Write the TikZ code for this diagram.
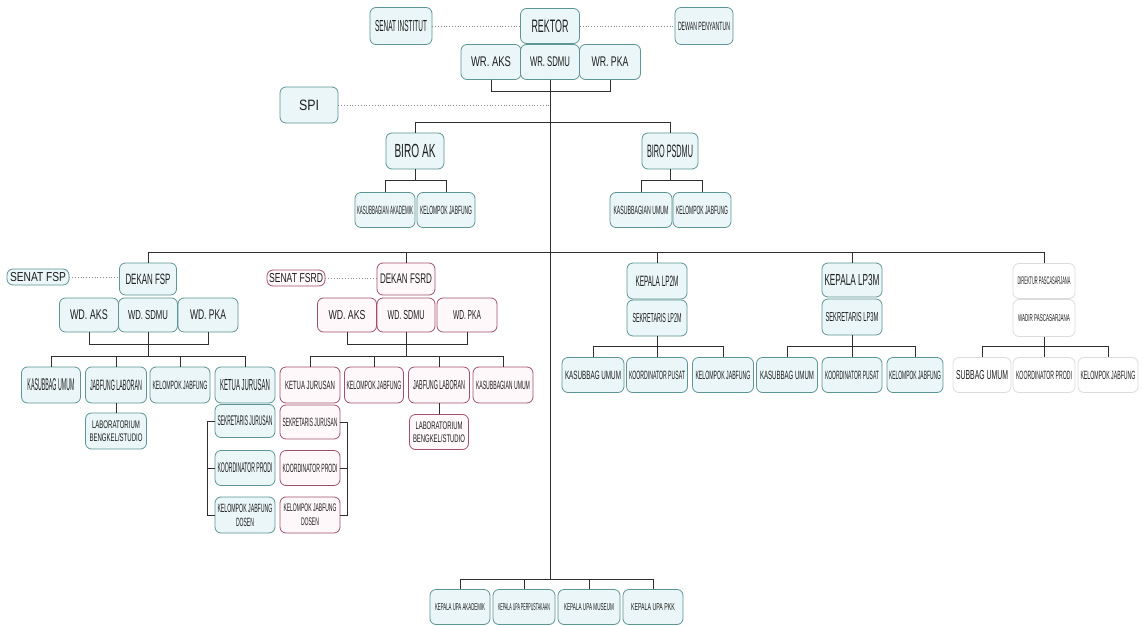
\documentclass[tikz,border=0pt]{standalone}
\usepackage{fontspec}
\setmainfont{Liberation Sans}
\usepackage{graphicx}
\definecolor{tealb}{HTML}{5F9494}
\definecolor{tealf}{HTML}{EAF6F7}
\definecolor{redb}{HTML}{A0506E}
\definecolor{redf}{HTML}{FFF8FA}
\definecolor{grayb}{HTML}{DCDCDC}
\definecolor{linec}{HTML}{2F2F2F}
\definecolor{dotc}{HTML}{8A8A8A}
\definecolor{txt}{HTML}{1E1E1E}
\newcommand\fw[3]{{\fontsize{#2}{#2}\selectfont\resizebox{#1pt}{\height}{#3}}}
\tikzset{
  bx/.style={draw=tealb, fill=tealf, rounded corners=6pt, line width=0.8pt, inner sep=0pt,
    align=center, text=txt, minimum width=60pt, minimum height=35pt, font=\fontsize{11}{12}\selectfont},
  rb/.style={bx, draw=redb, fill=redf},
  gb/.style={bx, draw=grayb, fill=white},
  sz/.style 2 args={minimum width=#1pt, minimum height=#2pt},
  ln/.style={draw=linec, line width=0.8pt},
  dl/.style={draw=dotc, line width=0.8pt, dotted},
}
\begin{document}
\begin{tikzpicture}[x=1pt,y=-1pt]
\useasboundingbox[fill=white] (0,0) rectangle (1143,626);
% level coordinates
\coordinate (y91) at (0,91);
\coordinate (y122) at (0,122);
\coordinate (y180) at (0,180);
\coordinate (hb) at (0,252);
\coordinate (ya1) at (0,344);
\coordinate (ya2) at (0,356);
\coordinate (yl) at (0,346);
\coordinate (yb) at (0,579);
\coordinate (t2) at (550,579);
\coordinate (bx1) at (207,0);
\coordinate (bx2) at (347,0);

% top
\node[bx, sz={62}{37}] (senat) at (401,26) {\fw{52}{16}{SENAT INSTITUT}};
\node[bx, sz={59}{35}] (rektor) at (550,26) {\fw{37}{18}{REKTOR}};
\node[bx, sz={58}{37}] (dewan) at (704,26) {\fw{52}{12}{DEWAN PENYANTUN}};
\node[bx, sz={60}{35}] (wraks) at (491,62) {\fw{40}{14}{WR. AKS}};
\node[bx, sz={59}{35}] (wrsdmu) at (550,62) {\fw{40}{14}{WR. SDMU}};
\node[bx, sz={61}{35}] (wrpka) at (610,62) {\fw{37}{14}{WR. PKA}};
\node[bx, sz={58}{36}] (spi) at (309,105) {\fw{20}{15}{SPI}};

% biro
\node[bx, sz={58}{36}] (biroak) at (415,151) {\fw{41}{19}{BIRO AK}};
\node[bx, sz={56}{36}] (biropsdmu) at (670,151) {\fw{46}{18}{BIRO PSDMU}};
\node[bx, sz={60}{35}] (kak) at (385,210) {\fw{56}{12}{KASUBBAGIAN AKADEMIK}};
\node[bx, sz={58}{35}] (kjf1) at (446,210) {\fw{52}{12}{KELOMPOK JABFUNG}};
\node[bx, sz={62}{35}] (kum1) at (641,210) {\fw{55}{12}{KASUBBAGIAN UMUM}};
\node[bx, sz={58}{35}] (kjf2) at (702,210) {\fw{52}{12}{KELOMPOK JABFUNG}};

% FSP
\node[bx, sz={62}{16}] (senatfsp) at (38,277) {\fw{56}{13}{SENAT FSP}};
\node[bx, sz={57}{32}] (dfsp) at (148,279) {\fw{45}{15}{DEKAN FSP}};
\node[bx, sz={59}{34}] (wdaks1) at (89,315) {\fw{38}{14}{WD. AKS}};
\node[bx, sz={59}{34}] (wdsdmu1) at (148,315) {\fw{40}{13}{WD. SDMU}};
\node[bx, sz={60}{34}] (wdpka1) at (208,315) {\fw{36}{14}{WD. PKA}};
\node[bx, sz={59}{36}] (kub1) at (51,385) {\fw{47}{17}{KASUBBAG UMUM}};
\node[bx, sz={61}{36}] (jl1) at (116,385) {\fw{52}{15}{JABFUNG LABORAN}};
\node[bx, sz={60}{36}] (kjf3) at (180,385) {\fw{55}{12}{KELOMPOK JABFUNG}};
\node[bx, sz={60}{36}] (kj1) at (245,385) {\fw{50}{16}{KETUA JURUSAN}};
\node[bx, sz={61}{36}] (lab1) at (116,431) {\fw{48}{11}{LABORATORIUM}\\[1pt]\fw{53}{11}{BENGKEL/STUDIO}};
\node[bx, sz={60}{33}] (sj1) at (245,421) {\fw{55}{14}{SEKRETARIS JURUSAN}};
\node[bx, sz={60}{35}] (kp1) at (245,468) {\fw{55}{14}{KOORDINATOR PRODI}};
\node[bx, sz={60}{36}] (kjd1) at (245,515) {\fw{55}{12}{KELOMPOK JABFUNG}\\[2pt]\fw{18}{12}{DOSEN}};

% FSRD
\node[rb, sz={58}{16}] (senatfsrd) at (296,278) {\fw{54}{13}{SENAT FSRD}};
\node[rb, sz={58}{32}] (dfsrd) at (406,279) {\fw{52}{14}{DEKAN FSRD}};
\node[rb, sz={59}{34}] (wdaks2) at (347,315) {\fw{37}{13}{WD. AKS}};
\node[rb, sz={58}{34}] (wdsdmu2) at (406,315) {\fw{37}{13}{WD. SDMU}};
\node[rb, sz={60}{34}] (wdpka2) at (467,315) {\fw{28}{13}{WD. PKA}};
\node[rb, sz={60}{36}] (kj2) at (310,385) {\fw{50}{12}{KETUA JURUSAN}};
\node[rb, sz={59}{36}] (kjf4) at (374,385) {\fw{55}{12}{KELOMPOK JABFUNG}};
\node[rb, sz={61}{36}] (jl2) at (439,385) {\fw{52}{13}{JABFUNG LABORAN}};
\node[rb, sz={60}{36}] (kub2) at (503,385) {\fw{54}{12}{KASUBBAGIAN UMUM}};
\node[rb, sz={59}{35}] (lab2) at (439,432) {\fw{47}{11}{LABORATORIUM}\\[1pt]\fw{52}{11}{BENGKEL/STUDIO}};
\node[rb, sz={60}{34}] (sj2) at (310,422) {\fw{55}{12}{SEKRETARIS JURUSAN}};
\node[rb, sz={60}{35}] (kp2) at (310,468) {\fw{55}{12}{KOORDINATOR PRODI}};
\node[rb, sz={60}{36}] (kjd2) at (310,515) {\fw{53}{11}{KELOMPOK JABFUNG}\\[2pt]\fw{18}{11}{DOSEN}};

% LP2M
\node[bx, sz={60}{36}] (klp2m) at (657,281) {\fw{43}{15}{KEPALA LP2M}};
\node[bx, sz={60}{36}] (slp2m) at (657,318) {\fw{49}{13}{SEKRETARIS LP2M}};
\node[bx, sz={62}{35}] (kub3) at (593,375) {\fw{56}{12}{KASUBBAG UMUM}};
\node[bx, sz={61}{35}] (kps1) at (657,375) {\fw{56}{12}{KOORDINATOR PUSAT}};
\node[bx, sz={61}{35}] (kjf5) at (723,375) {\fw{55}{12}{KELOMPOK JABFUNG}};

% LP3M
\node[bx, sz={60}{34}] (klp3m) at (852,280) {\fw{55}{16}{KEPALA LP3M}};
\node[bx, sz={60}{36}] (slp3m) at (852,317) {\fw{53}{13}{SEKRETARIS LP3M}};
\node[bx, sz={61}{35}] (kub4) at (787,375) {\fw{54}{12}{KASUBBAG UMUM}};
\node[bx, sz={60}{35}] (kps2) at (852,375) {\fw{54}{12}{KOORDINATOR PUSAT}};
\node[bx, sz={56}{35}] (kjf6) at (915,375) {\fw{52}{12}{KELOMPOK JABFUNG}};

% Pascasarjana
\node[gb, sz={62}{35}] (dir) at (1044,281) {\fw{53}{11}{DIREKTUR PASCASARJANA}};
\node[gb, sz={62}{37}] (wadir) at (1044,318) {\fw{52}{10}{WADIR PASCASARJANA}};
\node[gb, sz={58}{35}] (sub) at (982,375) {\fw{52}{13}{SUBBAG UMUM}};
\node[gb, sz={62}{35}] (kpr) at (1044,375) {\fw{56}{12}{KOORDINATOR PRODI}};
\node[gb, sz={60}{35}] (kjf7) at (1108,375) {\fw{55}{12}{KELOMPOK JABFUNG}};

% UPA
\node[bx, sz={60}{35}] (u1) at (460,607) {\fw{50}{10}{KEPALA UPA AKADEMIK}};
\node[bx, sz={62}{35}] (u2) at (524,607) {\fw{52}{10}{KEPALA UPA PERPUSTAKAAN}};
\node[bx, sz={62}{35}] (u3) at (589,607) {\fw{50}{10}{KEPALA UPA MUSEUM}};
\node[bx, sz={60}{35}] (u4) at (653,607) {\fw{44}{10}{KEPALA UPA PKK}};

% dotted links
\draw[dl] (senat.east) -- (rektor.west);
\draw[dl] (rektor.east) -- (dewan.west);
\draw[dl] (spi.east) -- (spi.east -| t2);
\draw[dl] (senatfsp.east) -- (senatfsp.east -| dfsp.west);
\draw[dl] (senatfsrd.east) -- (senatfsrd.east -| dfsrd.west);

% WR bracket and trunk
\draw[ln] (wraks.south) -- (wraks.south |- y91) -- (wrpka.south |- y91) -- (wrpka.south);
\draw[ln] (wrsdmu.south) -- (t2);
% UPA
\draw[ln] (u1.north) -- (u1.north |- yb) -- (u4.north |- yb) -- (u4.north);
\draw[ln] (u2.north) -- (u2.north |- yb);
\draw[ln] (u3.north) -- (u3.north |- yb);

% biro
\draw[ln] (biroak.north) -- (biroak.north |- y122) -- (biropsdmu.north |- y122) -- (biropsdmu.north);
\draw[ln] (biroak.south) -- (biroak.south |- y180);
\draw[ln] (kak.north) -- (kak.north |- y180) -- (kjf1.north |- y180) -- (kjf1.north);
\draw[ln] (biropsdmu.south) -- (biropsdmu.south |- y180);
\draw[ln] (kum1.north) -- (kum1.north |- y180) -- (kjf2.north |- y180) -- (kjf2.north);

% main horizontal
\draw[ln] (dfsp.north) -- (dfsp.north |- hb) -- (dir.north |- hb) -- (dir.north);
\draw[ln] (dfsrd.north) -- (dfsrd.north |- hb);
\draw[ln] (klp2m.north) -- (klp2m.north |- hb);
\draw[ln] (klp3m.north) -- (klp3m.north |- hb);

% FSP
\draw[ln] (wdaks1.south) -- (wdaks1.south |- ya1) -- (wdpka1.south |- ya1) -- (wdpka1.south);
\draw[ln] (wdsdmu1.south) -- (wdsdmu1.south |- ya2);
\draw[ln] (kub1.north) -- (kub1.north |- ya2) -- (kj1.north |- ya2) -- (kj1.north);
\draw[ln] (jl1.north) -- (jl1.north |- ya2);
\draw[ln] (kjf3.north) -- (kjf3.north |- ya2);
\draw[ln] (jl1.south) -- (lab1.north);
\draw[ln] (sj1.west) -- (sj1.west -| bx1) -- (kjd1.west -| bx1) -- (kjd1.west);
\draw[ln] (kp1.west) -- (kp1.west -| bx1);

% FSRD
\draw[ln] (wdaks2.south) -- (wdaks2.south |- ya1) -- (wdpka2.south |- ya1) -- (wdpka2.south);
\draw[ln] (wdsdmu2.south) -- (wdsdmu2.south |- ya2);
\draw[ln] (kj2.north) -- (kj2.north |- ya2) -- (kub2.north |- ya2) -- (kub2.north);
\draw[ln] (kjf4.north) -- (kjf4.north |- ya2);
\draw[ln] (jl2.north) -- (jl2.north |- ya2);
\draw[ln] (jl2.south) -- (lab2.north);
\draw[ln] (sj2.east) -- (sj2.east -| bx2) -- (kjd2.east -| bx2) -- (kjd2.east);
\draw[ln] (kp2.east) -- (kp2.east -| bx2);

% LP2M
\draw[ln] (slp2m.south) -- (slp2m.south |- yl);
\draw[ln] (kub3.north) -- (kub3.north |- yl) -- (kjf5.north |- yl) -- (kjf5.north);
\draw[ln] (kps1.north) -- (kps1.north |- yl);
% LP3M
\draw[ln] (slp3m.south) -- (slp3m.south |- yl);
\draw[ln] (kub4.north) -- (kub4.north |- yl) -- (kjf6.north |- yl) -- (kjf6.north);
\draw[ln] (kps2.north) -- (kps2.north |- yl);
% Pasca
\draw[ln] (wadir.south) -- (wadir.south |- yl);
\draw[ln] (sub.north) -- (sub.north |- yl) -- (kjf7.north |- yl) -- (kjf7.north);
\draw[ln] (kpr.north) -- (kpr.north |- yl);
\end{tikzpicture}
\end{document}
